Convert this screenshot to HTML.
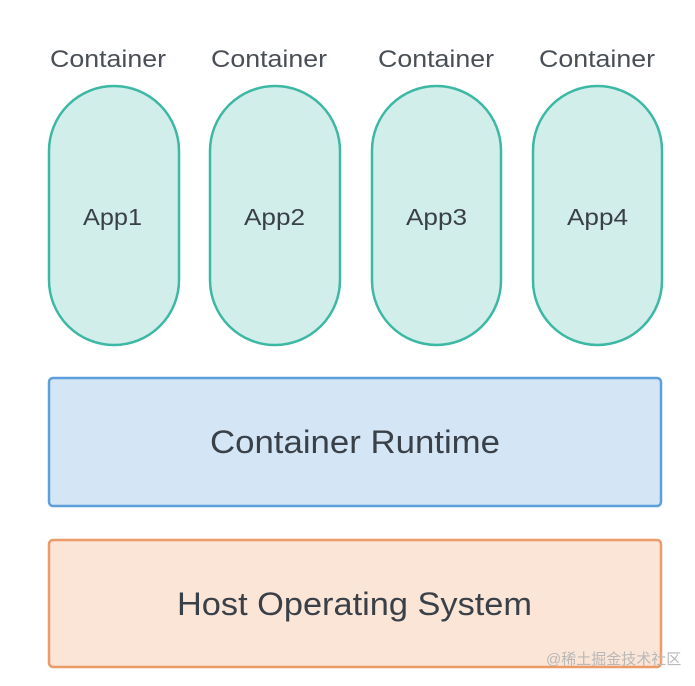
<!DOCTYPE html>
<html><head><meta charset="utf-8"><style>html,body{margin:0;padding:0;background:#fff;width:695px;height:686px;overflow:hidden}</style></head>
<body>
<svg width="695" height="686" viewBox="0 0 695 686" xmlns="http://www.w3.org/2000/svg" font-family="Liberation Sans, sans-serif">
<g fill="#d2eeea" stroke="#3cb8a4" stroke-width="2.5">
<rect x="49" y="86" width="130" height="259" rx="65" ry="65"/>
<rect x="210" y="86" width="130" height="259" rx="65" ry="65"/>
<rect x="372" y="86" width="129" height="259" rx="64.5" ry="64.5"/>
<rect x="533" y="86" width="129" height="259" rx="64.5" ry="64.5"/>
</g>
<rect x="49" y="378" width="612" height="128" rx="4" fill="#d4e5f5" stroke="#5b9fdc" stroke-width="2.5"/>
<rect x="49" y="540" width="612" height="127" rx="4" fill="#fbe5d7" stroke="#ec9a68" stroke-width="2.5"/>
<g fill="#4a4f55" font-size="24">
<text x="50" y="67" textLength="116" lengthAdjust="spacingAndGlyphs">Container</text>
<text x="211" y="67" textLength="116" lengthAdjust="spacingAndGlyphs">Container</text>
<text x="378" y="67" textLength="116" lengthAdjust="spacingAndGlyphs">Container</text>
<text x="539" y="67" textLength="116" lengthAdjust="spacingAndGlyphs">Container</text>
</g>
<g fill="#3a4048" font-size="23">
<text x="83" y="225" textLength="59" lengthAdjust="spacingAndGlyphs">App1</text>
<text x="244" y="225" textLength="61" lengthAdjust="spacingAndGlyphs">App2</text>
<text x="406" y="225" textLength="61" lengthAdjust="spacingAndGlyphs">App3</text>
<text x="567" y="225" textLength="61" lengthAdjust="spacingAndGlyphs">App4</text>
</g>
<g fill="#3a4048" font-size="32">
<text x="210" y="453" textLength="290" lengthAdjust="spacingAndGlyphs">Container Runtime</text>
<text x="177" y="615" textLength="355" lengthAdjust="spacingAndGlyphs">Host Operating System</text>
</g>
<text x="546" y="664" font-size="15" fill="#b8b8b8" font-family="Liberation Sans, Noto Sans CJK SC, sans-serif">@稀土掘金技术社区</text>
</svg>
</body></html>
